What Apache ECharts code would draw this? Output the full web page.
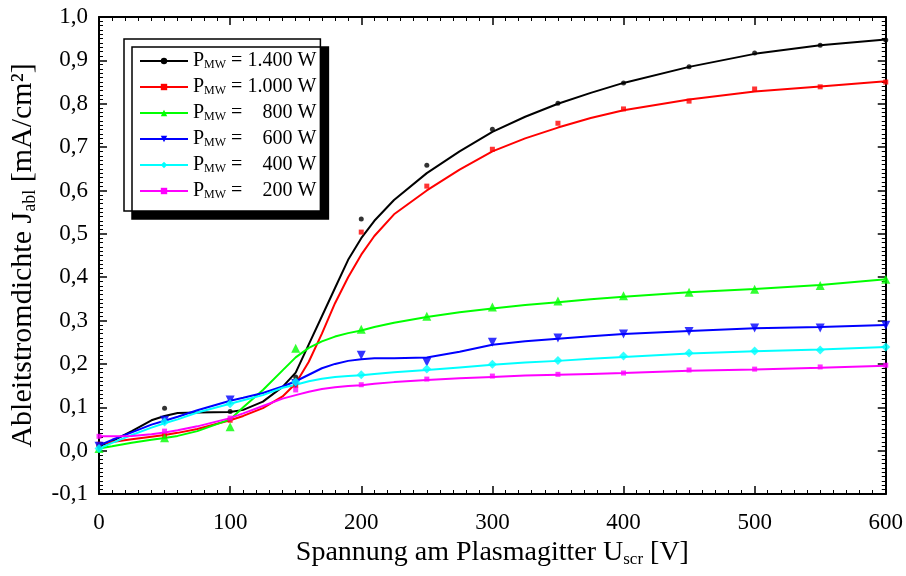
<!DOCTYPE html>
<html><head><meta charset="utf-8">
<script src="https://cdn.jsdelivr.net/npm/echarts@6/dist/echarts.min.js"></script>
<style>html,body{margin:0;padding:0;background:#fff}#c{width:906px;height:576px}</style>
</head><body><div id="c"></div>
<script>
// ---- data ----
const seriesNames = ['1.400 W', '1.000 W', '800 W', '600 W', '400 W', '200 W'];
const uMeas = [0, 50, 100, 150, 200, 250, 300, 350, 400, 450, 500, 550, 600];
const meas1400 = [0.010, 0.098, 0.090, 0.170, 0.534, 0.658, 0.741, 0.801, 0.848, 0.885, 0.917, 0.935, 0.947];
const meas1000 = [0.015, 0.035, 0.070, 0.150, 0.504, 0.610, 0.695, 0.755, 0.788, 0.806, 0.834, 0.839, 0.850];
const meas800  = [0.005, 0.030, 0.055, 0.236, 0.280, 0.310, 0.331, 0.345, 0.357, 0.365, 0.372, 0.381, 0.395];
const meas600  = [0.010, 0.070, 0.117, 0.155, 0.220, 0.204, 0.250, 0.260, 0.269, 0.275, 0.283, 0.283, 0.289];
const meas400  = [0.005, 0.066, 0.108, 0.158, 0.175, 0.188, 0.199, 0.208, 0.218, 0.225, 0.230, 0.232, 0.239];
const meas200  = [0.033, 0.045, 0.075, 0.140, 0.152, 0.165, 0.172, 0.176, 0.179, 0.186, 0.188, 0.193, 0.197];

const uFit = [0, 10, 25, 40, 50, 60, 75, 100, 110, 125, 140, 150, 160, 170, 180, 190, 200, 210, 225, 250, 275, 300, 325, 350, 375, 400, 450, 500, 550, 600];
const fit1400 = [0.010, 0.022, 0.045, 0.070, 0.080, 0.087, 0.088, 0.089, 0.094, 0.113, 0.147, 0.180, 0.245, 0.310, 0.375, 0.440, 0.490, 0.530, 0.578, 0.640, 0.690, 0.735, 0.770, 0.800, 0.825, 0.848, 0.885, 0.915, 0.935, 0.948];
const fit1000 = [0.015, 0.020, 0.026, 0.032, 0.036, 0.041, 0.050, 0.070, 0.080, 0.098, 0.125, 0.155, 0.205, 0.270, 0.340, 0.400, 0.452, 0.495, 0.545, 0.600, 0.648, 0.690, 0.720, 0.745, 0.767, 0.785, 0.810, 0.828, 0.840, 0.852];
const fit800  = [0.005, 0.010, 0.018, 0.025, 0.029, 0.034, 0.045, 0.072, 0.100, 0.140, 0.185, 0.215, 0.237, 0.252, 0.263, 0.271, 0.277, 0.285, 0.295, 0.308, 0.319, 0.328, 0.336, 0.342, 0.349, 0.355, 0.365, 0.373, 0.382, 0.395];
const fit600  = [0.012, 0.025, 0.042, 0.060, 0.069, 0.078, 0.093, 0.115, 0.122, 0.133, 0.148, 0.160, 0.175, 0.190, 0.200, 0.207, 0.211, 0.213, 0.213, 0.215, 0.228, 0.244, 0.252, 0.258, 0.264, 0.269, 0.276, 0.282, 0.285, 0.290];
const fit400  = [0.005, 0.018, 0.036, 0.053, 0.063, 0.072, 0.088, 0.108, 0.116, 0.128, 0.145, 0.152, 0.160, 0.166, 0.170, 0.172, 0.174, 0.177, 0.181, 0.186, 0.192, 0.198, 0.203, 0.207, 0.212, 0.216, 0.224, 0.229, 0.233, 0.239];
const fit200  = [0.033, 0.033, 0.034, 0.038, 0.042, 0.047, 0.056, 0.075, 0.086, 0.103, 0.120, 0.128, 0.136, 0.142, 0.146, 0.149, 0.151, 0.154, 0.158, 0.163, 0.167, 0.170, 0.173, 0.175, 0.177, 0.179, 0.184, 0.187, 0.191, 0.196];

const xTicks = { min: 0, max: 600, interval: 100 };
const yTicks = { min: -0.1, max: 1.0, interval: 0.1 };

// ---- styling ----
const FONT = '"Liberation Serif", "Times New Roman", serif';
const colors = ['#000000', '#ff0000', '#00ff00', '#0000ff', '#00ffff', '#ff00ff'];
const symbols = ['circle', 'rect', 'triangle', 'path://M0,0 L10,0 L5,10 Z', 'diamond', 'rect'];
const symSizes = [5, 5, 9, 9, 9, 5];
const measAll = [meas1400, meas1000, meas800, meas600, meas400, meas200];
const fitAll = [fit1400, fit1000, fit800, fit600, fit400, fit200];

const series = [];
seriesNames.forEach((nm, i) => {
  series.push({
    name: nm, type: 'line', smooth: false,
    data: uFit.map((u, k) => [u, fitAll[i][k]]),
    symbol: symbols[i], symbolSize: symSizes[i], showSymbol: false,
    lineStyle: { color: colors[i], width: 2 }, itemStyle: { color: colors[i] },
    emphasis: { disabled: true }, animation: false, z: 2
  });
});
seriesNames.forEach((nm, i) => {
  series.push({
    name: nm, type: 'scatter',
    data: uMeas.map((u, k) => [u, measAll[i][k]]),
    symbol: symbols[i], symbolSize: symSizes[i],
    itemStyle: { color: colors[i] }, animation: false, z: 3
  });
});

const axisCommon = {
  axisLine: { show: true, onZero: false, lineStyle: { color: '#000', width: 2 } },
  axisTick: { show: true, inside: true, length: 8, lineStyle: { color: '#000', width: 1.5 } },
  minorTick: { show: true, splitNumber: 10, length: 4, lineStyle: { color: '#000', width: 1 } },
  splitLine: { show: false }
};

const option = {
  backgroundColor: '#fff',
  animation: false,
  grid: { left: 99, right: 20, top: 17, bottom: 82, containLabel: false },
  legend: {
    data: seriesNames,
    orient: 'vertical', left: 124, top: 39,
    padding: [12, 4, 10, 15],
    itemGap: 6, itemWidth: 48, itemHeight: 8,
    backgroundColor: '#fff', borderColor: '#000', borderWidth: 1.5, borderRadius: 0,
    shadowColor: '#000', shadowBlur: 0, shadowOffsetX: 8, shadowOffsetY: 8,
    formatter: (name) => '{p|P}{s|MW}{e| =}{v|' + name + '}',
    textStyle: {
      fontFamily: FONT, fontSize: 20, color: '#000',
      rich: {
        p: { fontFamily: FONT, fontSize: 20, lineHeight: 20, color: '#000' },
        s: { fontFamily: FONT, fontSize: 12, lineHeight: 20, verticalAlign: 'bottom', padding: [8, 0, 0, 0], color: '#000' },
        e: { fontFamily: FONT, fontSize: 20, lineHeight: 20, color: '#000' },
        v: { fontFamily: FONT, fontSize: 20, lineHeight: 20, width: 74, align: 'right', color: '#000' }
      }
    }
  },
  xAxis: [
    Object.assign({}, axisCommon, {
      type: 'value', position: 'bottom', min: xTicks.min, max: xTicks.max, interval: xTicks.interval,
      axisLabel: { fontFamily: FONT, fontSize: 23, color: '#000', margin: 17 },
      name: 'Spannung am Plasmagitter U{sub|scr} [V]', nameLocation: 'middle', nameGap: 41,
      nameTextStyle: {
        fontFamily: FONT, fontSize: 28, color: '#000',
        rich: { sub: { fontFamily: FONT, fontSize: 17, verticalAlign: 'bottom', padding: [13, 0, 0, 0], color: '#000' } }
      }
    }),
    Object.assign({}, axisCommon, {
      type: 'value', position: 'top', min: xTicks.min, max: xTicks.max, interval: xTicks.interval,
      axisLabel: { show: false }
    })
  ],
  yAxis: [
    Object.assign({}, axisCommon, {
      type: 'value', position: 'left', min: yTicks.min, max: yTicks.max, interval: yTicks.interval,
      axisLabel: { fontFamily: FONT, fontSize: 23, color: '#000', margin: 11,
        formatter: (v) => v.toFixed(1).replace('.', ',') },
      name: 'Ableitstromdichte J{sub|abl} [mA/cm²]', nameLocation: 'middle', nameGap: 60, nameRotate: 90,
      nameTextStyle: {
        fontFamily: FONT, fontSize: 30, color: '#000',
        rich: { sub: { fontFamily: FONT, fontSize: 18, verticalAlign: 'bottom', padding: [14, 0, 0, 0], color: '#000' } }
      }
    }),
    Object.assign({}, axisCommon, {
      type: 'value', position: 'right', min: yTicks.min, max: yTicks.max, interval: yTicks.interval,
      axisLabel: { show: false }
    })
  ],
  series: series
};

const chart = echarts.init(document.getElementById('c'), null, { renderer: 'canvas' });
chart.setOption(option);
</script>
</body></html>
